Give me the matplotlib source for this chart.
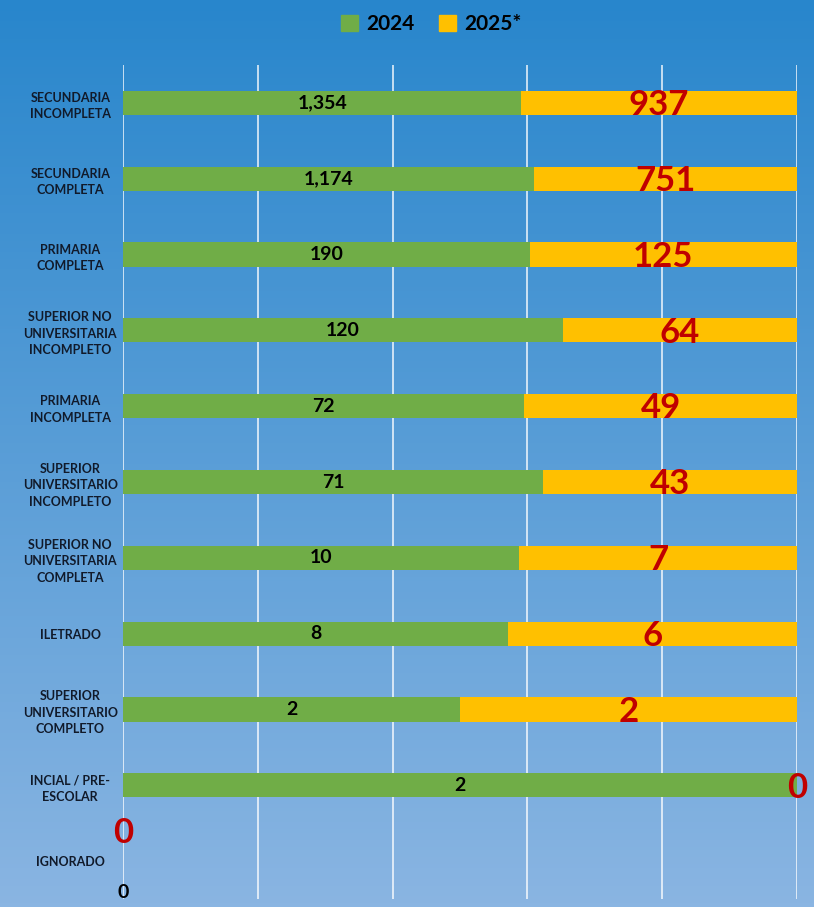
import matplotlib.pyplot as plt
import numpy as np
from matplotlib.patches import Patch

categories = ['SECUNDARIA\nINCOMPLETA', 'SECUNDARIA\nCOMPLETA', 'PRIMARIA\nCOMPLETA',
              'SUPERIOR NO\nUNIVERSITARIA\nINCOMPLETO', 'PRIMARIA\nINCOMPLETA',
              'SUPERIOR\nUNIVERSITARIO\nINCOMPLETO', 'SUPERIOR NO\nUNIVERSITARIA\nCOMPLETA',
              'ILETRADO', 'SUPERIOR\nUNIVERSITARIO\nCOMPLETO', 'INCIAL / PRE-\nESCOLAR', 'IGNORADO']
v2024 = [1354, 1174, 190, 120, 72, 71, 10, 8, 2, 2, 0]
v2025 = [937, 751, 125, 64, 49, 43, 7, 6, 2, 0, 0]
series_names = ['2024', '2025*']

green = '#70ad47'
yellow = '#ffc000'
red = '#c00000'
font = ['Lato', 'DejaVu Sans']

fig = plt.figure(figsize=(8.14, 9.07), dpi=100)

# gradient background
bg = fig.add_axes([0, 0, 1, 1], zorder=-10)
top = np.array([40, 134, 204]) / 255
bot = np.array([138, 181, 226]) / 255
t = np.linspace(0, 1, 256)[:, None]
grad = top * (1 - t) + bot * t
bg.imshow(grad[:, None, :], aspect='auto', extent=[0, 1, 0, 1])
bg.axis('off')

ax = fig.add_axes([123 / 814, 1 - 899 / 907, 674 / 814, 834 / 907])
ax.patch.set_alpha(0)

a = np.array(v2024, dtype=float)
b = np.array(v2025, dtype=float)
tot = a + b
p24 = np.divide(a, tot, out=np.zeros_like(a), where=tot > 0)
p25 = np.divide(b, tot, out=np.zeros_like(b), where=tot > 0)
y = np.arange(len(categories))

ax.barh(y, p24, height=0.32, color=green, zorder=3)
ax.barh(y, p25, left=p24, height=0.32, color=yellow, zorder=3)

for i in range(len(categories)):
    if tot[i] > 0:
        ax.text(p24[i] / 2, y[i], f'{v2024[i]:,}', ha='center', va='center',
                fontsize=14, fontweight='bold', color='black', family=font, zorder=4)
        ax.text(p24[i] + p25[i] / 2, y[i] + 0.03, f'{v2025[i]:,}', ha='center', va='center',
                fontsize=25, fontweight='bold', color=red, family=font, zorder=4)
    else:
        ax.text(0, y[i] - 0.37, f'{v2025[i]:,}', ha='center', va='center',
                fontsize=25, fontweight='bold', color=red, family=font, zorder=4)
        ax.text(0, y[i] + 0.42, f'{v2024[i]:,}', ha='center', va='center',
                fontsize=14, fontweight='bold', color='black', family=font, zorder=4)

ax.set_xlim(0, 1)
ax.set_ylim(len(categories) - 0.5, -0.5)
ax.set_xticks(np.linspace(0, 1, 6))
ax.set_xticklabels([])
ax.tick_params(length=0)
ax.grid(axis='x', color='white', linewidth=1.2, alpha=0.85, zorder=0)
for s in ax.spines.values():
    s.set_visible(False)

ax.set_yticks(y)
ax.set_yticklabels(categories, fontsize=9, fontweight='bold', color='#111a2a',
                   family=font, ha='center', linespacing=1.45)
ax.tick_params(axis='y', pad=38)

handles = [Patch(color=green), Patch(color=yellow)]
fig.legend(handles, series_names, loc='center', bbox_to_anchor=(0.53, 0.973), ncol=2,
           frameon=False, handlelength=0.8, handleheight=0.8, handletextpad=0.4,
           columnspacing=1.2, prop={'family': font, 'weight': 'bold', 'size': 15})

fig.savefig('out.png', dpi=100)
